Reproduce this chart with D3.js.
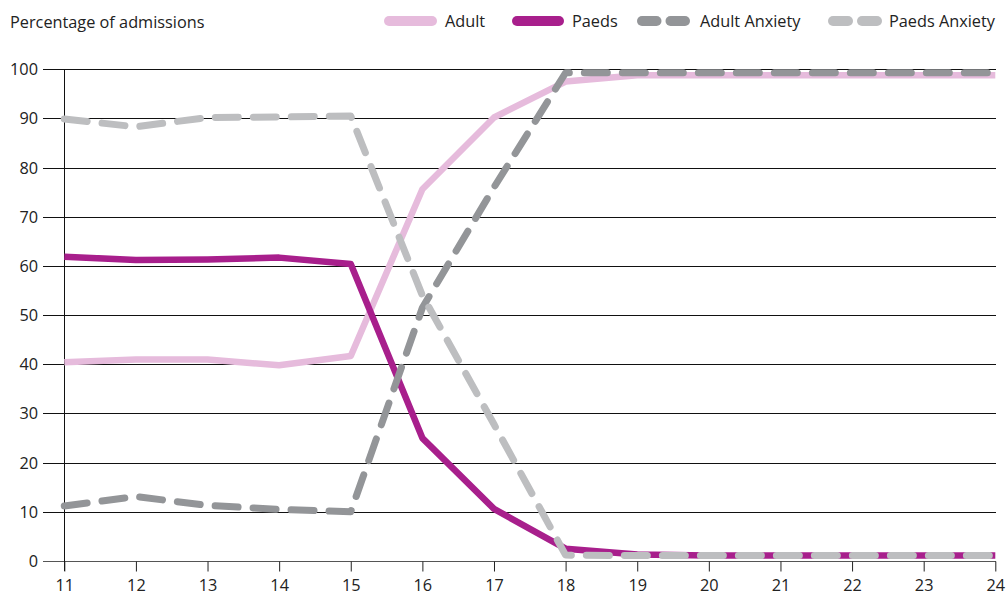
<!DOCTYPE html>
<html>
<head>
<meta charset="utf-8">
<script src="https://cdn.jsdelivr.net/npm/d3@7"></script>
<style>
  html, body { margin: 0; padding: 0; background: #fff; }
  svg { display: block; font-family: "Open Sans", "Noto Sans", sans-serif; }
</style>
</head>
<body>
<svg id="chart" width="1008" height="598"></svg>
<script>
const ages = [11, 12, 13, 14, 15, 16, 17, 18, 19, 20, 21, 22, 23, 24];
const adult = [40.4, 41.0, 41.0, 39.8, 41.7, 75.6, 90.2, 97.5, 98.8, 98.8, 98.8, 98.8, 98.8, 98.8];
const paeds = [61.9, 61.2, 61.3, 61.7, 60.4, 25.0, 10.6, 2.5, 1.3, 1.1, 1.1, 1.1, 1.1, 1.1];
const adultAnxiety = [11.2, 13.1, 11.3, 10.5, 10.0, 51.5, 76.0, 99.3, 99.3, 99.3, 99.3, 99.3, 99.3, 99.3];
const paedsAnxiety = [89.9, 88.3, 90.2, 90.3, 90.5, 54.0, 27.8, 1.2, 1.1, 1.1, 1.1, 1.1, 1.1, 1.1];
const yTicks = [0, 10, 20, 30, 40, 50, 60, 70, 80, 90, 100];
const yTitle = "Percentage of admissions";

const series = [
  { name: "Adult", values: adult, color: "#e6bbdc", dashed: false },
  { name: "Paeds", values: paeds, color: "#a81f8c", dashed: false },
  { name: "Adult Anxiety", values: adultAnxiety, color: "#939598", dashed: true },
  { name: "Paeds Anxiety", values: paedsAnxiety, color: "#bdbec0", dashed: true }
];

const FS = 16.3;
const svg = d3.select("#chart");
const x = d3.scaleLinear().domain([11, 24]).range([64.3, 995.3]);
const y = d3.scaleLinear().domain([0, 100]).range([561, 69.3]);

// horizontal gridlines
svg.append("g").selectAll("line").data(yTicks).join("line")
  .attr("x1", 43).attr("x2", 996)
  .attr("y1", d => Math.round(y(d)) + 0.5).attr("y2", d => Math.round(y(d)) + 0.5)
  .attr("stroke", d => d === 0 ? "#555" : "#111").attr("stroke-width", 1);

// y tick labels
svg.append("g").selectAll("text").data(yTicks).join("text")
  .attr("x", 38).attr("y", d => y(d) + 6)
  .attr("text-anchor", "end")
  .attr("font-size", FS).attr("fill", "#222")
  .text(d => d);

// left axis line
svg.append("line")
  .attr("x1", 64.5).attr("x2", 64.5).attr("y1", 69).attr("y2", 571)
  .attr("stroke", "#111").attr("stroke-width", 1);

// x axis ticks & labels
const xAxis = d3.axisBottom(x).tickValues(ages).tickSize(10).tickPadding(8).tickFormat(d3.format("d"));
const gx = svg.append("g").attr("transform", `translate(0,${Math.round(y(0)) + 0.5})`).call(xAxis);
gx.select(".domain").remove();
gx.selectAll(".tick line").attr("stroke", "#222");
gx.selectAll(".tick text").attr("font-size", FS).attr("fill", "#222").attr("font-family", "\"Open Sans\", \"Noto Sans\", sans-serif");

// lines
const line = d3.line().x((d, i) => x(ages[i])).y(d => y(d));
series.forEach(s => {
  const p = svg.append("path")
    .attr("d", line(s.values))
    .attr("fill", "none")
    .attr("stroke", s.color)
    .attr("stroke-linejoin", "round");
  if (s.dashed) {
    p.attr("stroke-width", 7).attr("stroke-dasharray", "23 15").attr("stroke-linecap", "round");
  } else {
    p.attr("stroke-width", 6.5).attr("stroke-linecap", "butt");
  }
});

// title
svg.append("text").attr("x", 10).attr("y", 28)
  .attr("font-size", FS).attr("fill", "#222").text(yTitle);

// legend
const legendPos = [
  { sx: 389, ex: 432, tx: 445 },
  { sx: 517, ex: 559, tx: 572 },
  { sx: 642, ex: 685, tx: 700 },
  { sx: 833, ex: 877, tx: 889 }
];
const lg = svg.append("g");
series.forEach((s, i) => {
  const p = legendPos[i];
  if (s.dashed) {
    const mid = (p.sx + p.ex) / 2;
    lg.append("line").attr("x1", p.sx).attr("x2", mid - 7).attr("y1", 21).attr("y2", 21)
      .attr("stroke", s.color).attr("stroke-width", 10).attr("stroke-linecap", "round");
    lg.append("line").attr("x1", mid + 7).attr("x2", p.ex).attr("y1", 21).attr("y2", 21)
      .attr("stroke", s.color).attr("stroke-width", 10).attr("stroke-linecap", "round");
  } else {
    lg.append("line").attr("x1", p.sx).attr("x2", p.ex).attr("y1", 21).attr("y2", 21)
      .attr("stroke", s.color).attr("stroke-width", 10).attr("stroke-linecap", "round");
  }
  lg.append("text").attr("x", p.tx).attr("y", 27)
    .attr("font-size", FS).attr("fill", "#222").text(s.name);
});
</script>
</body>
</html>
